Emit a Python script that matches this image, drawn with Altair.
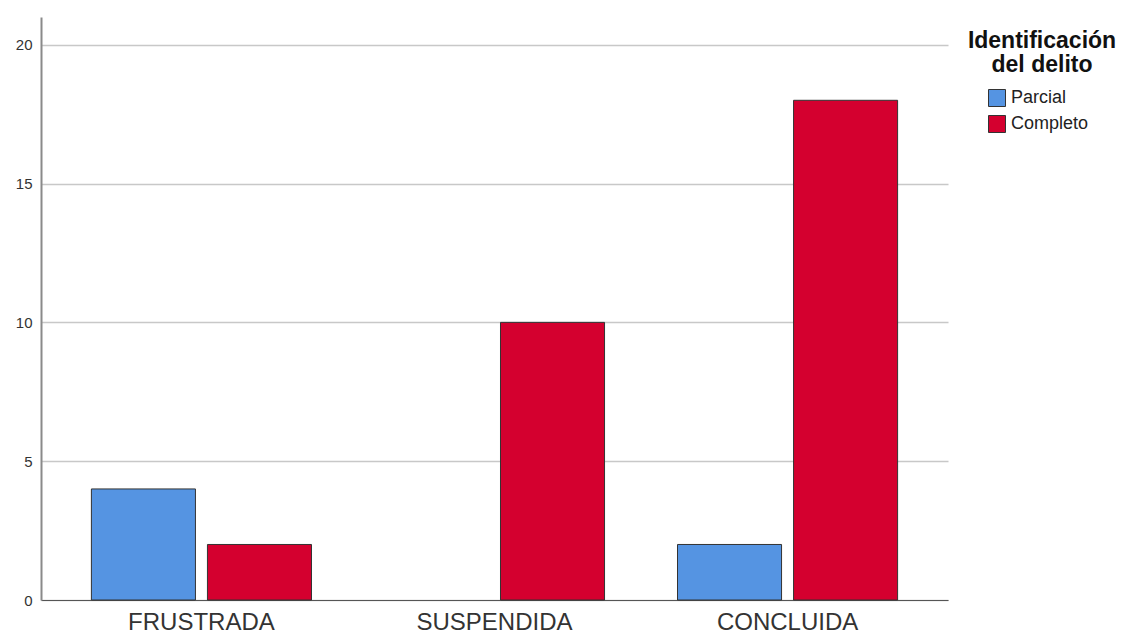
import altair as alt
import pandas as pd

estados = ["FRUSTRADA", "SUSPENDIDA", "CONCLUIDA"]
tipos = ["Parcial", "Completo"]
parcial = [4, 0, 2]
completo = [2, 10, 18]
y_ticks = [0, 5, 10, 15, 20]
colores = ["#5594e2", "#d4002f"]
titulo_leyenda = ["Identificación", "del delito"]

rows = []
for e, p, c in zip(estados, parcial, completo):
    rows.append({"estado": e, "tipo": "Parcial", "n": p})
    rows.append({"estado": e, "tipo": "Completo", "n": c})
df = pd.DataFrame(rows)

FONT = "Liberation Sans"

bars = alt.Chart(df).transform_filter(alt.datum.n > 0).mark_bar(
    stroke="#333333", strokeWidth=1
).encode(
    x=alt.X("estado:N", sort=estados, title=None,
            scale=alt.Scale(paddingInner=0.249, paddingOuter=0.172),
            axis=alt.Axis(labelAngle=0, labelFontSize=24, labelColor="#333333",
                          labelFont=FONT, ticks=False, domainColor="#555555",
                          domainWidth=1, labelPadding=10)),
    xOffset=alt.XOffset("tipo:N", sort=tipos,
                        scale=alt.Scale(paddingInner=0.1034, paddingOuter=0)),
    y=alt.Y("n:Q", title=None,
            scale=alt.Scale(domain=[0, 21], nice=False),
            axis=alt.Axis(values=y_ticks, grid=True, gridColor="#c8c8c8",
                          gridWidth=1.5, ticks=False, domainColor="#8a8a8a",
                          domainWidth=2, labelFontSize=15, labelColor="#333333",
                          labelFont=FONT, labelPadding=9)),
    color=alt.Color("tipo:N", sort=tipos,
                    scale=alt.Scale(domain=tipos, range=colores),
                    legend=alt.Legend(title=None, orient="none",
                                      legendX=947, legendY=72, padding=0,
                                      symbolType="square", symbolSize=289,
                                      symbolStrokeColor="#333333",
                                      symbolStrokeWidth=1, symbolOpacity=1,
                                      labelFontSize=18, labelColor="#222222",
                                      labelFont=FONT, labelOffset=5,
                                      rowPadding=4)),
)

title_text = alt.Chart(pd.DataFrame({"k": [0]})).mark_text(
    align="center", baseline="alphabetic", fontSize=23, fontWeight="bold",
    font=FONT, color="#111111", lineHeight=24
).encode(
    x=alt.value(1001), y=alt.value(31), text=alt.value(titulo_leyenda)
)

chart = alt.layer(bars, title_text).properties(
    width=907, height=583,
    autosize=alt.AutoSizeParams(type="none"),
    padding={"left": 33, "top": 9, "right": 170, "bottom": 33},
).configure_view(stroke=None)

chart.save("out.html", embed_options={"renderer": "svg", "actions": False})
